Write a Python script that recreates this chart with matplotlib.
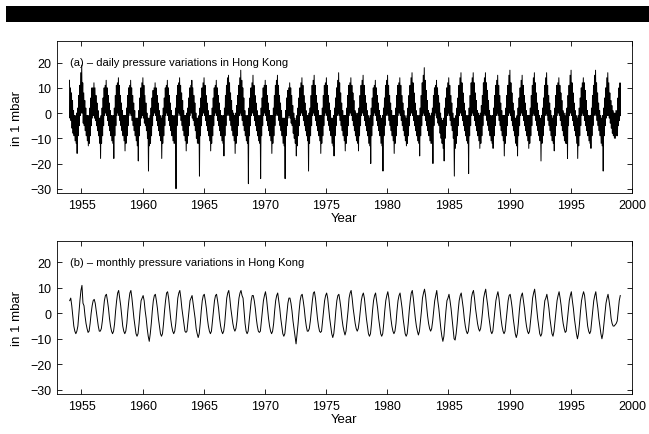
import numpy as np
import matplotlib.pyplot as plt

# first year of both records, values are given month by month (Jan..Dec)
start_year = 1954

# (b) monthly pressure variation, mbar
monthly_b = [
    5, 6, 3, -1, -5, -7, -8, -7, -5, 0, 5, 9,            # 1954
    11, 4, 3, -1, -4, -6, -7.5, -7, -4, 0, 3, 5,         # 1955
    5.5, 4, 1, -2, -5, -7, -7, -6, -3, 1, 5, 7,          # 1956
    7.5, 5, 2, -2, -5, -7, -8, -7, -4, 1, 5, 8,          # 1957
    9, 6, 3, -1, -5, -7, -8, -7, -4, 1, 5, 8,            # 1958
    9, 6, 2, -2, -5, -8, -9, -8, -4, 1, 5, 6,            # 1959
    7, 5, 1, -2, -6, -9, -11, -8, -4, 1, 5, 7,           # 1960
    7.5, 5, 2, -2, -5, -8, -9, -8, -4, 1, 5, 8,          # 1961
    8.5, 6, 2, -2, -5, -7, -8, -7, -4, 1, 6, 8,          # 1962
    9, 6, 2, -1, -4, -7, -7.5, -7, -3, 1, 5, 6,          # 1963
    7, 4, 1, -2, -6, -8, -9.5, -8, -4, 1, 5, 7,          # 1964
    7.5, 5, 2, -2, -5, -7, -8, -7, -3, 1, 5, 7,          # 1965
    7.5, 5, 2, -2, -5, -7, -8, -7, -4, 1, 6, 8,          # 1966
    9, 6, 2, -1, -4, -6, -7, -6, -3, 2, 6, 8,            # 1967
    9, 7, 6, 1, -4, -7, -8, -7, -3, 1, 5, 7,             # 1968
    7, 5, 2, -2, -5, -7, -7.5, -7, -3, 1, 5, 7,          # 1969
    8.5, 6, 2, -2, -5, -7, -8, -7, -4, 1, 5, 7,          # 1970
    8, 5, 2, -2, -5, -8, -9, -8, -4, 0, 4, 6,            # 1971
    6, 4, 1, -3, -6, -9, -12, -8, -4, 1, 5, 7,           # 1972
    7.5, 5, 2, -2, -5, -7, -7, -6, -3, 1, 5, 8,          # 1973
    8.5, 6, 2, -2, -5, -7, -7.5, -7, -3, 1, 5, 7,        # 1974
    8, 6, 2, -2, -5, -8, -9.5, -8, -4, 1, 5, 7,          # 1975
    7.5, 5, 2, -2, -5, -7, -8.5, -7, -3, 1, 6, 8,        # 1976
    9, 6, 2, -1, -4, -6, -7, -6, -3, 1, 5, 7,            # 1977
    8, 6, 2, -2, -5, -8, -9, -8, -4, 1, 5, 7,            # 1978
    8, 5, 2, -2, -5, -8, -9, -8, -4, 1, 5, 7,            # 1979
    8.5, 6, 2, -2, -5, -7, -8, -7, -4, 1, 5, 7,          # 1980
    8, 5, 2, -2, -5, -8, -9, -8, -4, 1, 5, 8,            # 1981
    9, 6, 2, -2, -5, -7, -8.5, -7, -3, 1, 6, 8,          # 1982
    9.5, 7, 3, -1, -4, -6, -7, -6, -3, 1, 5, 7,          # 1983
    9, 5, 2, -2, -6, -9, -11, -9, -4, 1, 5, 6,           # 1984
    7.5, 5, 2, -2, -6, -10, -10.5, -8, -4, 1, 5, 7,      # 1985
    8, 5, 2, -2, -5, -7, -8, -7, -3, 1, 6, 8,            # 1986
    9, 6, 2, -1, -4, -6, -7, -6, -3, 1, 6, 8,            # 1987
    9.5, 6, 3, -1, -4, -7, -8, -7, -3, 1, 5, 7,          # 1988
    8.5, 6, 2, -2, -5, -7, -8, -7, -3, 1, 5, 7,          # 1989
    7.5, 5, 2, -2, -5, -8, -9.5, -8, -4, 1, 5, 7,        # 1990
    8, 5, 2, -2, -5, -7, -8, -7, -3, 1, 6, 8,            # 1991
    9.5, 6, 2, -2, -5, -8, -9, -8, -4, 1, 5, 6,          # 1992
    7.5, 5, 2, -2, -5, -8, -9, -7, -3, 1, 5, 7,          # 1993
    8.5, 6, 3, -1, -4, -6, -7.5, -7, -3, 1, 5, 7,        # 1994
    8.5, 5, 2, -2, -5, -8, -10, -8, -4, 1, 5, 7,         # 1995
    8.5, 7, 3, -1, -5, -7, -8, -7, -3, 1, 5, 7,          # 1996
    8.5, 5, 2, -2, -5, -8, -10, -8, -4, 0, 4, 6,         # 1997
    7.5, 5, 2, -2, -4, -5, -5, -4.5, -4, -3, 1, 5,       # 1998
    7,                                                   # 1999
]

# (a) daily record, highest and lowest daily value of each month, mbar
daily_hi = [
    13, 10, 8, 5, 1, -1, -1, 0, 2, 7, 11, 16,       # 1954
    19, 12, 8, 5, 2, -1, -1, -1, 2, 6, 10, 10,      # 1955
    12, 10, 7, 4, 1, -2, -2, -1, 2, 6, 10, 11,      # 1956
    13, 10, 7, 4, 1, -1, -1, -1, 2, 7, 11, 12,      # 1957
    14, 11, 7, 4, 1, -1, -1, -1, 2, 7, 10, 11,      # 1958
    13, 10, 7, 4, 1, -2, -2, -2, 1, 6, 10, 12,      # 1959
    14, 11, 7, 4, 0, -2, -2, -1, 2, 6, 9, 10,       # 1960
    12, 10, 7, 4, 1, -1, -2, -1, 2, 6, 10, 11,      # 1961
    13, 10, 7, 4, 1, -1, -1, -1, 2, 7, 11, 12,      # 1962
    14, 11, 8, 5, 1, -1, -1, 0, 2, 6, 10, 11,       # 1963
    13, 10, 7, 4, 0, -2, -2, -1, 2, 6, 10, 12,      # 1964
    14, 11, 7, 4, 1, -1, -1, -1, 2, 6, 10, 11,      # 1965
    13, 10, 7, 4, 1, -1, -1, -1, 2, 7, 11, 14,      # 1966
    15, 12, 8, 5, 1, 0, -1, 0, 3, 7, 11, 14,        # 1967
    17, 13, 10, 6, 1, -1, -1, -1, 2, 6, 10, 12,     # 1968
    15, 11, 7, 4, 1, -1, -1, -1, 2, 6, 10, 11,      # 1969
    13, 11, 7, 4, 1, -1, -1, -1, 2, 7, 11, 13,      # 1970
    15, 11, 7, 4, 1, -2, -2, -2, 1, 6, 9, 10,       # 1971
    12, 10, 7, 3, 0, -2, -3, -1, 2, 6, 10, 12,      # 1972
    14, 11, 7, 4, 1, -1, -1, 0, 2, 7, 11, 13,       # 1973
    15, 11, 7, 4, 1, -1, -1, -1, 2, 7, 11, 12,      # 1974
    14, 11, 7, 4, 1, -2, -2, -1, 2, 6, 10, 13,      # 1975
    16, 12, 8, 4, 1, -1, -1, -1, 2, 7, 11, 12,      # 1976
    14, 11, 8, 5, 1, 0, -1, 0, 2, 7, 11, 13,        # 1977
    15, 11, 7, 4, 1, -1, -2, -1, 2, 6, 10, 11,      # 1978
    13, 10, 7, 4, 1, -1, -2, -1, 2, 6, 11, 13,      # 1979
    15, 11, 7, 4, 1, -1, -1, -1, 2, 7, 11, 12,      # 1980
    14, 11, 7, 4, 1, -1, -2, -1, 2, 7, 11, 14,      # 1981
    16, 12, 8, 4, 1, -1, -1, -1, 2, 7, 12, 15,      # 1982
    18, 13, 9, 5, 1, 0, -1, 0, 2, 7, 10, 11,        # 1983
    13, 10, 7, 4, 0, -2, -3, -2, 2, 6, 10, 12,      # 1984
    14, 11, 7, 4, 0, -2, -2, -1, 2, 6, 11, 14,      # 1985
    16, 12, 8, 4, 1, -1, -1, -1, 2, 7, 12, 14,      # 1986
    16, 12, 8, 5, 1, 0, -1, 0, 3, 7, 12, 14,        # 1987
    16, 12, 9, 5, 1, -1, -1, -1, 2, 7, 11, 13,      # 1988
    15, 11, 7, 4, 1, -1, -1, -1, 2, 7, 11, 15,      # 1989
    17, 12, 8, 4, 1, -2, -2, -1, 2, 6, 10, 13,      # 1990
    15, 11, 7, 4, 1, -1, -1, -1, 2, 7, 11, 14,      # 1991
    16, 12, 8, 4, 1, -1, -2, -1, 2, 6, 11, 14,      # 1992
    16, 11, 7, 4, 1, -1, -2, -1, 2, 7, 11, 12,      # 1993
    14, 11, 8, 5, 1, 0, -1, 0, 2, 7, 11, 15,        # 1994
    17, 12, 8, 4, 1, -1, -2, -1, 2, 6, 10, 12,      # 1995
    14, 12, 9, 5, 1, -1, -1, -1, 2, 7, 11, 15,      # 1996
    17, 12, 8, 4, 1, -1, -2, -1, 2, 6, 10, 14,      # 1997
    16, 12, 8, 5, 3, 1, 0, 0, 1, 1, 6, 10,          # 1998
    12,                                             # 1999
]

daily_lo = [
    -2, -3, -6, -8, -9, -11, -12, -16, -9, -5, -1, 0,     # 1954
    0, -4, -5, -7, -9, -11, -13, -12, -9, -5, -2, -1,     # 1955
    -2, -3, -5, -7, -9, -12, -18, -12, -9, -5, -1, 0,     # 1956
    -1, -3, -5, -7, -9, -11, -12, -18, -9, -5, -1, 0,     # 1957
    -1, -3, -5, -7, -9, -11, -15, -12, -9, -5, -1, 0,     # 1958
    -1, -3, -5, -7, -9, -11, -13, -19, -9, -5, -2, -1,    # 1959
    -2, -4, -5, -7, -10, -23, -13, -12, -9, -5, -1, 0,    # 1960
    -1, -3, -5, -7, -9, -11, -18, -12, -9, -5, -1, 0,     # 1961
    -1, -3, -5, -7, -9, -11, -12, -12, -30, -5, -1, 0,    # 1962
    -1, -3, -5, -7, -9, -11, -15, -12, -9, -5, -1, 0,     # 1963
    -2, -3, -5, -7, -10, -12, -12, -25, -9, -5, -1, 0,    # 1964
    -1, -3, -5, -7, -9, -11, -15, -12, -9, -5, -1, 0,     # 1965
    -1, -3, -5, -7, -9, -11, -12, -17, -9, -5, -1, 0,     # 1966
    -1, -3, -5, -7, -9, -11, -16, -12, -9, -5, -1, 0,     # 1967
    -1, -3, -5, -7, -9, -11, -12, -28, -9, -5, -1, 0,     # 1968
    -1, -3, -5, -7, -9, -11, -12, -26, -9, -5, -1, 0,     # 1969
    -1, -3, -5, -7, -9, -11, -16, -12, -9, -5, -1, 0,     # 1970
    -1, -3, -5, -7, -9, -12, -13, -26, -9, -5, -2, -1,    # 1971
    -2, -4, -5, -8, -10, -12, -17, -13, -9, -5, -1, 0,    # 1972
    -1, -3, -5, -7, -9, -11, -23, -12, -9, -5, -1, 0,     # 1973
    -1, -3, -5, -7, -9, -11, -16, -12, -9, -5, -1, 0,     # 1974
    -1, -3, -5, -7, -9, -12, -13, -17, -9, -5, -1, 0,     # 1975
    -1, -3, -5, -7, -9, -11, -15, -12, -9, -5, -1, 0,     # 1976
    -1, -3, -5, -7, -9, -11, -12, -15, -9, -5, -1, 0,     # 1977
    -1, -3, -5, -7, -9, -12, -13, -20, -9, -5, -1, 0,     # 1978
    -1, -3, -5, -7, -9, -12, -13, -23, -9, -5, -1, 0,     # 1979
    -1, -3, -5, -7, -9, -11, -16, -12, -9, -5, -1, 0,     # 1980
    -1, -3, -5, -7, -9, -11, -13, -12, -9, -5, -1, 0,     # 1981
    -1, -3, -5, -7, -9, -11, -12, -17, -9, -5, -1, 0,     # 1982
    -1, -3, -5, -7, -9, -11, -12, -12, -20, -5, -1, 0,    # 1983
    -2, -4, -5, -8, -10, -12, -14, -19, -10, -5, -1, 0,   # 1984
    -1, -3, -5, -7, -10, -25, -14, -12, -9, -5, -1, 0,    # 1985
    -1, -3, -5, -7, -9, -11, -12, -24, -9, -5, -1, 0,     # 1986
    -1, -3, -5, -7, -9, -11, -14, -12, -9, -5, -1, 0,     # 1987
    -1, -3, -5, -7, -9, -11, -12, -14, -9, -5, -1, 0,     # 1988
    -1, -3, -5, -7, -9, -11, -17, -12, -9, -5, -1, 0,     # 1989
    -1, -3, -5, -7, -9, -12, -13, -17, -9, -5, -1, 0,     # 1990
    -1, -3, -5, -7, -9, -11, -14, -12, -9, -5, -1, 0,     # 1991
    -1, -3, -5, -7, -9, -11, -19, -12, -9, -5, -1, 0,     # 1992
    -1, -3, -5, -7, -9, -11, -12, -15, -9, -5, -1, 0,     # 1993
    -1, -3, -5, -7, -9, -11, -12, -12, -18, -5, -1, 0,    # 1994
    -1, -3, -5, -7, -9, -12, -18, -13, -9, -5, -1, 0,     # 1995
    -1, -3, -5, -7, -9, -11, -12, -14, -9, -5, -1, 0,     # 1996
    -1, -3, -5, -7, -9, -12, -13, -23, -9, -5, -2, -1,    # 1997
    -1, -2, -4, -6, -8, -9, -10, -10, -9, -9, -5, -3,     # 1998
    -1,                                                   # 1999
]

titles = ["(a) \u2013 daily pressure variations in Hong Kong",
          "(b) \u2013 monthly pressure variations in Hong Kong"]

plt.rcParams['font.family'] = ['Liberation Sans', 'DejaVu Sans']

fig = plt.figure(figsize=(6.49, 4.35), dpi=100)

# black bar across the top of the page
fig.add_artist(plt.Rectangle((0.009, 0.947), 0.991, 0.037,
                             transform=fig.transFigure, color='black', lw=0))

ax1 = fig.add_axes([0.0878, 0.554, 0.886, 0.349])
ax2 = fig.add_axes([0.0878, 0.092, 0.886, 0.352])

# daily record: zig-zag between the monthly high and low values
hi = np.array(daily_hi, dtype=float)
lo = np.array(daily_lo, dtype=float)
t = start_year + (np.arange(len(hi)) + 0.5) / 12.0
xz = np.empty(2 * len(t))
yz = np.empty(2 * len(t))
xz[0::2] = t - 1 / 48.0
xz[1::2] = t + 1 / 48.0
yz[0::2] = hi
yz[1::2] = lo
ax1.plot(xz, yz, color='black', lw=0.7)

mb = np.array(monthly_b, dtype=float)
tm = start_year + (np.arange(len(mb)) + 0.5) / 12.0
ax2.plot(tm, mb, color='black', lw=0.7)

for ax, title in zip([ax1, ax2], titles):
    ax.set_xlim(1953, 2000)
    ax.set_ylim(-31.7, 28.5)
    ax.set_xticks(range(1955, 2001, 5))
    ax.set_yticks(range(-30, 21, 10))
    ax.tick_params(direction='in', top=True, right=True, length=3.5,
                   width=0.6, labelsize=9, pad=4)
    for s in ax.spines.values():
        s.set_linewidth(0.6)
    ax.set_xlabel('Year', fontsize=9.5, labelpad=1)
    ax.set_ylabel('in 1 mbar', fontsize=9.5, labelpad=5)
    ax.text(0.023, 0.86, title, transform=ax.transAxes, fontsize=8,
            va='center', ha='left')

plt.savefig('out.png', dpi=100)
